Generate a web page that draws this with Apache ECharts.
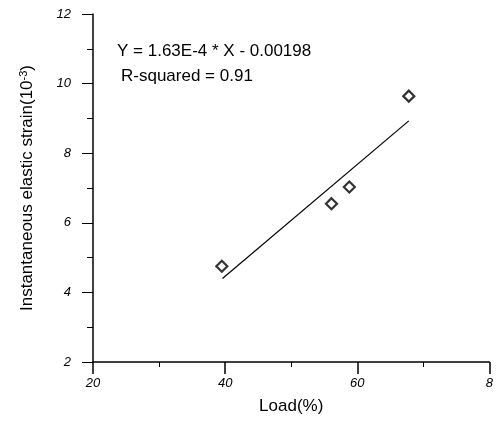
<!DOCTYPE html>
<html>
<head>
<meta charset="utf-8">
<script src="https://cdn.jsdelivr.net/npm/echarts@6/dist/echarts.min.js"></script>
<style>
  html, body { margin: 0; padding: 0; background: #fff; }
  #main { width: 496px; height: 430px; }
</style>
</head>
<body>
<div id="main"></div>
<script>
// measured points: load (%) vs strain (10^-3)
var loads   = [39.5, 56.1, 58.8, 67.8];
var strains = [4.75, 6.55, 7.03, 9.64];
// fitted line end points
var fitX = [39.6, 67.8];
var fitY = [4.40, 8.93];
var xTickLabels = { 20: '20', 40: '40', 60: '60', 80: '8' };
var eqText = 'Y = 1.63E-4 * X - 0.00198';
var r2Text = 'R-squared = 0.91';

var chart = echarts.init(document.getElementById('main'), null, { renderer: 'canvas' });
var font = 'Liberation Sans, Arial, sans-serif';

var option = {
    animation: false,
    backgroundColor: '#fff',
    grid: { left: 93, top: 14, right: 5, bottom: 68 },
    xAxis: {
        type: 'value',
        min: 20, max: 80, interval: 20,
        name: 'Load(%)',
        nameLocation: 'middle',
        nameGap: 36,
        nameTextStyle: { color: '#000', fontSize: 17, fontFamily: font },
        axisLine: { show: true, onZero: false, lineStyle: { color: '#000', width: 1.5 } },
        axisTick: { show: true, inside: false, length: 12, lineStyle: { color: '#000', width: 1.5 } },
        minorTick: { show: true, splitNumber: 2, length: 5, lineStyle: { color: '#000' } },
        splitLine: { show: false },
        axisLabel: {
            color: '#000', fontSize: 13, fontStyle: 'italic', fontFamily: font, margin: 15,
            formatter: function (v) { return xTickLabels[v] || ''; }
        }
    },
    yAxis: {
        type: 'value',
        min: 2, max: 12, interval: 2,
        name: '{n|Instantaneous elastic strain(10}{s|-3}{n|)}',
        nameLocation: 'middle',
        nameGap: 57,
        nameTextStyle: {
            color: '#000', fontFamily: font,
            rich: {
                n: { fontSize: 17, fontFamily: font, color: '#000' },
                s: { fontSize: 11, fontFamily: font, color: '#000', verticalAlign: 'top', padding: [0, 0, 7, 0] }
            }
        },
        axisLine: { show: true, onZero: false, lineStyle: { color: '#000', width: 1.5 } },
        axisTick: { show: true, inside: false, length: 11, lineStyle: { color: '#000', width: 1 } },
        minorTick: { show: true, splitNumber: 2, length: 6, lineStyle: { color: '#000' } },
        splitLine: { show: false },
        axisLabel: { color: '#000', fontSize: 13, fontStyle: 'italic', fontFamily: font, margin: 22 }
    },
    series: [
        {
            name: 'fit',
            type: 'line',
            data: fitX.map(function (x, i) { return [x, fitY[i]]; }),
            showSymbol: false,
            lineStyle: { color: '#000', width: 1.2 },
            z: 2
        },
        {
            name: 'data',
            type: 'scatter',
            data: loads.map(function (x, i) { return [x, strains[i]]; }),
            symbol: 'diamond',
            symbolSize: 11,
            itemStyle: { color: '#fff', borderColor: '#000', borderWidth: 2.2 },
            z: 3
        }
    ],
    graphic: [
        {
            type: 'text', left: 117, top: 43,
            style: { text: eqText, fill: '#000', font: '17px ' + font }
        },
        {
            type: 'text', left: 121, top: 68,
            style: { text: r2Text, fill: '#000', font: '17px ' + font }
        }
    ]
};

chart.setOption(option);
</script>
</body>
</html>
